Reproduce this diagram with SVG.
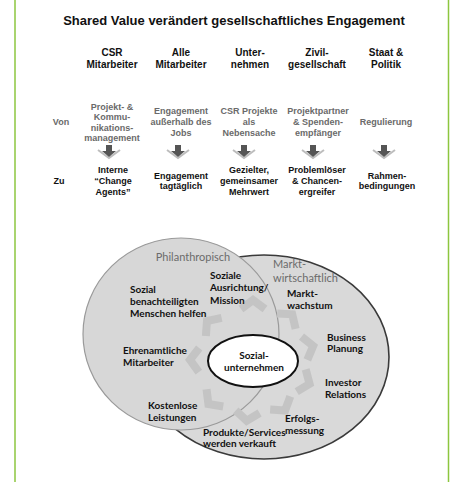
<svg xmlns="http://www.w3.org/2000/svg" width="451" height="482" viewBox="0 0 451 482">
<defs>
<style>
.ttl{font-family:"Liberation Sans",Arial,sans-serif;font-weight:bold;font-size:13px;fill:#111;text-anchor:middle}
.hd{font-family:"Liberation Sans",Arial,sans-serif;font-weight:bold;font-size:10px;fill:#111;text-anchor:middle}
.von{font-family:"Liberation Sans",Arial,sans-serif;font-weight:bold;font-size:9px;fill:#6a6a6a;text-anchor:middle}
.zu{font-family:"Liberation Sans",Arial,sans-serif;font-weight:bold;font-size:9px;fill:#111;text-anchor:middle}
.lbl{font-family:Lato,"Liberation Sans",sans-serif;font-weight:bold;font-size:10px;fill:#111}
.cat{font-family:Lato,"Liberation Sans",sans-serif;font-size:11px;fill:#6b6b6b}
.chev{fill:none;stroke:#c4c4c4;stroke-width:8;stroke-linejoin:miter}
</style>
<g id="dnarrow">
<polyline points="-11,5 0,13 11,5" fill="none" stroke="#bdbdbd" stroke-width="2"/>
<rect x="-3" y="0" width="6" height="6" fill="#555"/>
<polygon points="-7,6 7,6 0,12" fill="#555"/>
</g>
<path id="chev" class="chev" d="M-12,5 L0,-4 L12,5"/>
</defs>
<rect width="451" height="482" fill="#fff"/>
<line x1="15" y1="0" x2="15" y2="482" stroke="#8dc63f" stroke-width="1.5"/>
<line x1="448.5" y1="0" x2="448.5" y2="482" stroke="#8dc63f" stroke-width="1.5"/>

<g id="title"><text class="ttl" x="234" y="25">Shared Value verändert gesellschaftliches Engagement</text></g>

<g id="headers">
<text class="hd" x="112" y="56">CSR</text><text class="hd" x="112" y="68">Mitarbeiter</text>
<text class="hd" x="181" y="56">Alle</text><text class="hd" x="181" y="68">Mitarbeiter</text>
<text class="hd" x="250" y="56">Unter-</text><text class="hd" x="250" y="68">nehmen</text>
<text class="hd" x="317" y="56">Zivil-</text><text class="hd" x="317" y="68">gesellschaft</text>
<text class="hd" x="386" y="56">Staat &amp;</text><text class="hd" x="386" y="68">Politik</text>
</g>

<g id="row-von">
<text class="von" x="61" y="125">Von</text>
<text class="von" x="112" y="109.5">Projekt- &amp;</text>
<text class="von" x="112" y="120">Kommu-</text>
<text class="von" x="112" y="130.5">nikations-</text>
<text class="von" x="112" y="141">management</text>
<text class="von" x="181" y="114">Engagement</text>
<text class="von" x="181" y="125">außerhalb des</text>
<text class="von" x="181" y="135.5">Jobs</text>
<text class="von" x="249" y="114">CSR Projekte</text>
<text class="von" x="249" y="125">als</text>
<text class="von" x="249" y="135.5">Nebensache</text>
<text class="von" x="318" y="114">Projektpartner</text>
<text class="von" x="318" y="125">&amp; Spenden-</text>
<text class="von" x="318" y="135.5">empfänger</text>
<text class="von" x="386" y="125">Regulierung</text>
</g>

<g id="connectors">
<use href="#dnarrow" x="109" y="145"/>
<use href="#dnarrow" x="178" y="145"/>
<use href="#dnarrow" x="244" y="145"/>
<use href="#dnarrow" x="313" y="145"/>
<use href="#dnarrow" x="384" y="145"/>
</g>

<g id="row-zu">
<text class="zu" x="59" y="184">Zu</text>
<text class="zu" x="113" y="173">Interne</text>
<text class="zu" x="113" y="184">“Change</text>
<text class="zu" x="113" y="194.5">Agents”</text>
<text class="zu" x="181" y="178.5">Engagement</text>
<text class="zu" x="181" y="189">tagtäglich</text>
<text class="zu" x="249" y="173">Gezielter,</text>
<text class="zu" x="249" y="184">gemeinsamer</text>
<text class="zu" x="249" y="194.5">Mehrwert</text>
<text class="zu" x="317" y="173">Problemlöser</text>
<text class="zu" x="317" y="184">&amp; Chancen-</text>
<text class="zu" x="317" y="194.5">ergreifer</text>
<text class="zu" x="387" y="178.5">Rahmen-</text>
<text class="zu" x="387" y="189">bedingungen</text>
</g>

<g id="marktwirtschaftlich">
<ellipse cx="264" cy="357" rx="125" ry="102" fill="#d9d9d9" stroke="#3a3a3a" stroke-width="1.6"/>
</g>
<g id="philanthropisch">
<ellipse cx="181" cy="334" rx="98" ry="96" fill="#d7d7d7" stroke="#9a9a9a" stroke-width="1.2"/>
</g>

<g id="cycle">
<use href="#chev" transform="translate(253,361) rotate(0) translate(0,-57)"/>
<use href="#chev" transform="translate(253,361) rotate(40) translate(0,-57)"/>
<use href="#chev" transform="translate(253,361) rotate(76) translate(0,-58)"/>
<use href="#chev" transform="translate(253,361) rotate(112) translate(0,-57)"/>
<use href="#chev" transform="translate(253,361) rotate(147) translate(0,-55)"/>
<use href="#chev" transform="translate(253,361) rotate(186) translate(0,-56)"/>
<use href="#chev" transform="translate(253,361) rotate(226) translate(0,-58)"/>
<use href="#chev" transform="translate(253,361) rotate(271) translate(0,-59)"/>
<use href="#chev" transform="translate(253,361) rotate(311) translate(0,-57)"/>
</g>

<g id="labels">
<text class="cat" x="193" y="261" text-anchor="middle">Philanthropisch</text>
<text class="cat" x="273" y="268">Markt-</text>
<text class="cat" x="273" y="282">wirtschaftlich</text>
<text class="lbl" x="130" y="292.5">Sozial</text>
<text class="lbl" x="130" y="304.5">benachteiligten</text>
<text class="lbl" x="130" y="316.5">Menschen helfen</text>
<text class="lbl" x="210" y="278.5">Soziale</text>
<text class="lbl" x="210" y="291">Ausrichtung/</text>
<text class="lbl" x="210" y="303.5">Mission</text>
<text class="lbl" x="287" y="296.5">Markt-</text>
<text class="lbl" x="287" y="308.5">wachstum</text>
<text class="lbl" x="327" y="340.5">Business</text>
<text class="lbl" x="327" y="352">Planung</text>
<text class="lbl" x="123" y="353.5">Ehrenamtliche</text>
<text class="lbl" x="123" y="366">Mitarbeiter</text>
<text class="lbl" x="325" y="385.5">Investor</text>
<text class="lbl" x="325" y="397.5">Relations</text>
<text class="lbl" x="148" y="408.5">Kostenlose</text>
<text class="lbl" x="148" y="420.5">Leistungen</text>
<text class="lbl" x="285" y="421.5">Erfolgs-</text>
<text class="lbl" x="285" y="434">messung</text>
<text class="lbl" x="203" y="435.5">Produkte/Services</text>
<text class="lbl" x="203" y="447">werden verkauft</text>
</g>

<g id="sozialunternehmen">
<ellipse cx="253" cy="361" rx="45" ry="26" fill="#fff" stroke="#111" stroke-width="2"/>
<text class="lbl" x="254" y="358.5" text-anchor="middle">Sozial-</text>
<text class="lbl" x="254" y="370.5" text-anchor="middle">unternehmen</text>
</g>
</svg>
